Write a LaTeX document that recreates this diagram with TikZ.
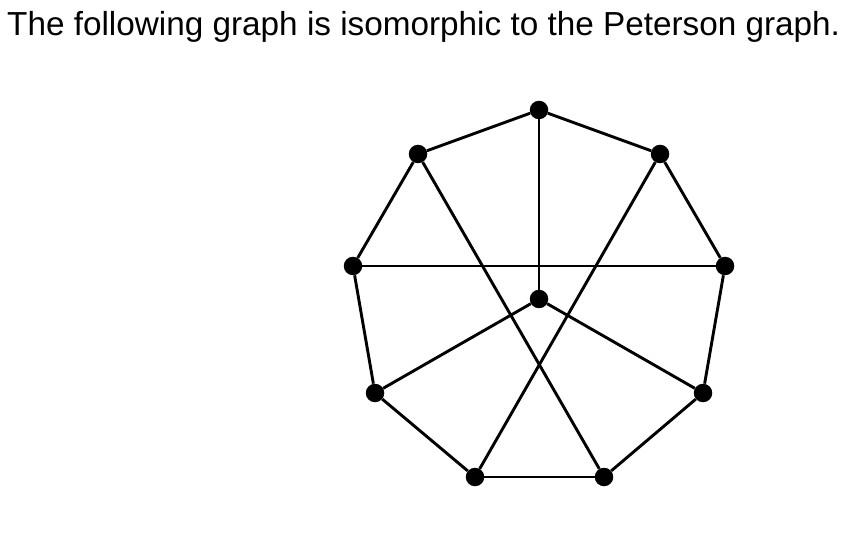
\documentclass[tikz,border=0pt]{standalone}
\usepackage{fontspec}
\setmainfont{Liberation Sans}
\usepackage{tikz}
\usetikzlibrary{positioning}

\begin{document}
\begin{tikzpicture}[
  x=1pt, y=-1pt,
  vertex/.style={circle, fill=black, inner sep=0pt, minimum size=18.5pt},
  edge/.style={line width=2.9pt}
]
\useasboundingbox (0,0) rectangle (864,534);

\node[anchor=base west, inner sep=0pt, font=\fontsize{33.3}{38}\selectfont] (title) at (7,36) {The following graph is isomorphic to the Peterson graph.};

\node[vertex] (top) at (539,110) {};
\node[vertex] (ul) at (418,154) {};
\node[vertex] (ur) at (660,154) {};
\node[vertex] (left) at (353,266) {};
\node[vertex] (right) at (725,266) {};
\node[vertex] (center) at (539,299) {};
\node[vertex] (ll) at (375,393) {};
\node[vertex] (lr) at (703,393) {};
\node[vertex] (bl) at (475,477) {};
\node[vertex] (br) at (604,477) {};

\draw[edge] (top) -- (ul);
\draw[edge] (top) -- (ur);
\draw[edge] (top) -- (center);
\draw[edge] (ul) -- (left);
\draw[edge] (ul) -- (br);
\draw[edge] (ur) -- (right);
\draw[edge] (ur) -- (bl);
\draw[edge] (left) -- (right);
\draw[edge] (left) -- (ll);
\draw[edge] (right) -- (lr);
\draw[edge] (center) -- (ll);
\draw[edge] (center) -- (lr);
\draw[edge] (ll) -- (bl);
\draw[edge] (lr) -- (br);
\draw[edge] (bl) -- (br);

\end{tikzpicture}
\end{document}
